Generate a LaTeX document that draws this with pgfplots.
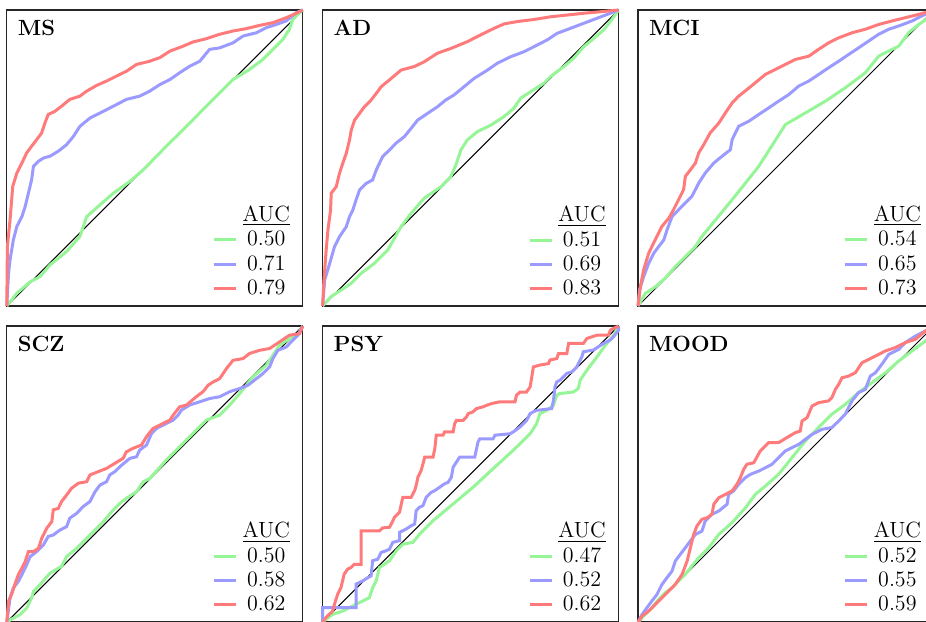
\documentclass[border=0pt]{standalone}
\usepackage{pgfplots}
\pgfplotsset{compat=1.18}
\definecolor{cgreen}{RGB}{150,245,150}
\definecolor{cblue}{RGB}{155,155,255}
\definecolor{cred}{RGB}{255,122,122}
\newcommand{\lfont}{\fontsize{11}{13}\selectfont}
\newcommand{\auc}{\underline{AUC}\rule[-2.5pt]{0pt}{2.5pt}}
\pgfplotsset{
  roc/.style={
    scale only axis, width=148pt, height=148pt,
    xmin=0, xmax=1, ymin=0, ymax=1,
    ticks=none, clip=false,
    axis line style={line width=0.6pt, black!85},
    legend cell align=center,
    legend style={at={(1,0)}, anchor=south east, xshift=-6.5pt, yshift=4.2pt,
      draw=none, fill=none, inner sep=0pt, outer sep=0pt,
      row sep=3.3pt, column sep=2.5pt,
      nodes={inner sep=0pt, font=\lfont}},
    legend image code/.code={\draw[##1] (0pt,0pt) -- (11pt,0pt);},
  },
  gr/.style={color=cgreen, line width=1.5pt},
  bl/.style={color=cblue, line width=1.5pt},
  rd/.style={color=cred, line width=1.5pt},
  dg/.style={black, line width=0.5pt, forget plot},
}
\newcommand{\paneltitle}[1]{\node[anchor=north west, inner sep=0pt, font=\lfont\bfseries, xshift=5.3pt, yshift=-5pt] at (rel axis cs:0,1) {#1};}
\begin{document}
\begin{tikzpicture}
\useasboundingbox (0,0) rectangle (463pt,-310.5pt);
\clip (0,0) rectangle (463pt,-310.5pt);
% ---------------- MS
\begin{axis}[roc, at={(3.4pt,-5pt)}, anchor=north west]
\addlegendimage{empty legend}\addlegendentry{\auc}
\addplot[dg] coordinates {(0,0) (1,1)};
\addplot[gr] coordinates {(0,0) (0.034,0.043) (0.079,0.082) (0.112,0.099) (0.146,0.139) (0.202,0.184) (0.247,0.235) (0.270,0.302) (0.315,0.342) (0.360,0.381) (0.416,0.421) (0.461,0.460) (0.539,0.540) (0.607,0.607) (0.674,0.675) (0.719,0.720) (0.764,0.765) (0.820,0.799) (0.865,0.833) (0.899,0.867) (0.933,0.901) (0.955,0.935) (0.966,0.968) (0.989,0.991) (1,1)};
\addlegendentry{0.50}
\addplot[bl] coordinates {(0,0) (0.006,0.111) (0.011,0.156) (0.022,0.223) (0.034,0.269) (0.051,0.302) (0.062,0.336) (0.073,0.381) (0.084,0.427) (0.090,0.472) (0.107,0.489) (0.124,0.500) (0.146,0.506) (0.174,0.523) (0.202,0.545) (0.225,0.573) (0.247,0.607) (0.281,0.635) (0.315,0.652) (0.360,0.675) (0.404,0.698) (0.449,0.709) (0.483,0.726) (0.517,0.748) (0.551,0.765) (0.584,0.788) (0.618,0.810) (0.652,0.827) (0.685,0.867) (0.719,0.872) (0.764,0.889) (0.798,0.912) (0.843,0.923) (0.876,0.940) (0.910,0.951) (0.944,0.963) (0.978,0.991) (1,1)};
\addlegendentry{0.71}
\addplot[rd] coordinates {(0,0) (0.002,0.201) (0.011,0.291) (0.020,0.404) (0.034,0.449) (0.051,0.483) (0.067,0.517) (0.084,0.540) (0.101,0.562) (0.118,0.585) (0.129,0.619) (0.140,0.647) (0.163,0.658) (0.185,0.675) (0.213,0.698) (0.247,0.709) (0.270,0.726) (0.303,0.745) (0.337,0.760) (0.371,0.777) (0.404,0.793) (0.438,0.816) (0.483,0.827) (0.517,0.839) (0.551,0.861) (0.596,0.878) (0.629,0.892) (0.674,0.903) (0.719,0.918) (0.764,0.929) (0.809,0.937) (0.854,0.948) (0.899,0.957) (0.944,0.974) (0.978,0.989) (1,1)};
\addlegendentry{0.79}
\paneltitle{MS}
\end{axis}
% ---------------- AD
\begin{axis}[roc, at={(161.3pt,-5pt)}, anchor=north west]
\addlegendimage{empty legend}\addlegendentry{\auc}
\addplot[dg] coordinates {(0,0) (1,1)};
\addplot[gr] coordinates {(0,0) (0.029,0.032) (0.063,0.054) (0.097,0.077) (0.130,0.110) (0.175,0.144) (0.220,0.189) (0.265,0.268) (0.299,0.313) (0.343,0.364) (0.400,0.403) (0.433,0.437) (0.450,0.476) (0.467,0.527) (0.489,0.561) (0.523,0.589) (0.568,0.611) (0.613,0.640) (0.646,0.668) (0.669,0.702) (0.703,0.724) (0.747,0.752) (0.770,0.775) (0.815,0.809) (0.848,0.837) (0.882,0.876) (0.916,0.904) (0.949,0.932) (0.972,0.961) (1,1)};
\addlegendentry{0.51}
\addplot[bl] coordinates {(0,0) (0.007,0.088) (0.024,0.144) (0.040,0.200) (0.057,0.234) (0.080,0.268) (0.091,0.302) (0.102,0.324) (0.113,0.358) (0.125,0.392) (0.147,0.414) (0.169,0.426) (0.181,0.459) (0.203,0.505) (0.226,0.527) (0.248,0.550) (0.276,0.572) (0.299,0.600) (0.321,0.628) (0.355,0.651) (0.388,0.673) (0.416,0.696) (0.444,0.713) (0.478,0.741) (0.512,0.769) (0.557,0.797) (0.590,0.820) (0.635,0.842) (0.680,0.859) (0.714,0.876) (0.759,0.899) (0.792,0.921) (0.837,0.938) (0.882,0.955) (0.927,0.972) (0.972,0.989) (1,1)};
\addlegendentry{0.69}
\addplot[rd] coordinates {(0,0) (0.004,0.077) (0.012,0.189) (0.018,0.257) (0.027,0.324) (0.029,0.381) (0.046,0.403) (0.057,0.448) (0.068,0.482) (0.080,0.516) (0.091,0.561) (0.097,0.595) (0.108,0.628) (0.125,0.651) (0.141,0.673) (0.164,0.696) (0.181,0.718) (0.198,0.741) (0.226,0.764) (0.265,0.797) (0.310,0.809) (0.343,0.825) (0.388,0.854) (0.433,0.870) (0.489,0.893) (0.534,0.916) (0.579,0.938) (0.613,0.953) (0.658,0.961) (0.714,0.968) (0.770,0.977) (0.826,0.983) (0.882,0.989) (0.938,0.994) (1,1)};
\addlegendentry{0.83}
\paneltitle{AD}
\end{axis}
% ---------------- MCI
\begin{axis}[roc, at={(319pt,-5pt)}, anchor=north west]
\addlegendimage{empty legend}\addlegendentry{\auc}
\addplot[dg] coordinates {(0,0) (1,1)};
\addplot[gr] coordinates {(0,0) (0.025,0.043) (0.059,0.065) (0.092,0.094) (0.126,0.133) (0.160,0.167) (0.194,0.201) (0.216,0.235) (0.318,0.359) (0.408,0.472) (0.498,0.613) (0.565,0.652) (0.633,0.692) (0.700,0.737) (0.768,0.788) (0.813,0.844) (0.836,0.856) (0.881,0.878) (0.914,0.923) (0.948,0.951) (0.973,0.968) (1,1)};
\addlegendentry{0.54}
\addplot[bl] coordinates {(0,0) (0.005,0.054) (0.019,0.099) (0.036,0.144) (0.053,0.178) (0.070,0.201) (0.087,0.223) (0.098,0.257) (0.115,0.302) (0.137,0.325) (0.160,0.348) (0.182,0.370) (0.205,0.415) (0.227,0.449) (0.256,0.483) (0.284,0.506) (0.312,0.528) (0.318,0.562) (0.340,0.607) (0.374,0.624) (0.408,0.647) (0.441,0.669) (0.475,0.692) (0.509,0.714) (0.543,0.743) (0.577,0.760) (0.610,0.782) (0.644,0.805) (0.678,0.827) (0.712,0.850) (0.745,0.872) (0.779,0.895) (0.813,0.918) (0.847,0.935) (0.881,0.946) (0.926,0.963) (0.959,0.980) (1,1)};
\addlegendentry{0.65}
\addplot[rd] coordinates {(0,0) (0.008,0.065) (0.019,0.122) (0.036,0.178) (0.047,0.201) (0.064,0.235) (0.081,0.269) (0.104,0.297) (0.120,0.325) (0.137,0.359) (0.154,0.393) (0.160,0.438) (0.177,0.460) (0.194,0.483) (0.205,0.517) (0.222,0.545) (0.244,0.585) (0.273,0.618) (0.295,0.652) (0.318,0.686) (0.340,0.709) (0.368,0.731) (0.396,0.754) (0.430,0.782) (0.464,0.799) (0.498,0.816) (0.532,0.833) (0.577,0.844) (0.610,0.867) (0.644,0.889) (0.678,0.906) (0.723,0.923) (0.768,0.935) (0.813,0.951) (0.858,0.963) (0.903,0.974) (0.948,0.985) (1,1)};
\addlegendentry{0.73}
\paneltitle{MCI}
\end{axis}
% ---------------- SCZ
\begin{axis}[roc, at={(3.4pt,-163pt)}, anchor=north west]
\addlegendimage{empty legend}\addlegendentry{\auc}
\addplot[dg] coordinates {(0,0) (1,1)};
\addplot[gr] coordinates {(0,0) (0.022,0.013) (0.045,0.025) (0.067,0.047) (0.084,0.081) (0.090,0.103) (0.112,0.126) (0.146,0.165) (0.185,0.188) (0.202,0.221) (0.236,0.249) (0.281,0.294) (0.326,0.339) (0.360,0.379) (0.382,0.401) (0.404,0.418) (0.438,0.440) (0.461,0.474) (0.483,0.485) (0.539,0.547) (0.607,0.615) (0.674,0.682) (0.719,0.699) (0.753,0.733) (0.787,0.772) (0.831,0.828) (0.876,0.867) (0.899,0.901) (0.921,0.935) (0.955,0.957) (0.983,0.969) (1,1)};
\addlegendentry{0.50}
\addplot[bl] coordinates {(0,0) (0.011,0.081) (0.022,0.115) (0.039,0.137) (0.051,0.160) (0.067,0.193) (0.079,0.221) (0.101,0.238) (0.124,0.261) (0.140,0.289) (0.157,0.294) (0.180,0.311) (0.202,0.322) (0.213,0.351) (0.236,0.367) (0.258,0.390) (0.281,0.407) (0.298,0.440) (0.315,0.463) (0.337,0.474) (0.348,0.497) (0.365,0.508) (0.388,0.530) (0.416,0.553) (0.438,0.558) (0.449,0.581) (0.472,0.598) (0.489,0.637) (0.506,0.654) (0.539,0.671) (0.562,0.682) (0.579,0.699) (0.590,0.716) (0.618,0.733) (0.652,0.744) (0.685,0.755) (0.719,0.761) (0.753,0.778) (0.787,0.789) (0.815,0.800) (0.843,0.822) (0.865,0.839) (0.888,0.862) (0.899,0.890) (0.916,0.918) (0.944,0.929) (0.966,0.952) (0.983,0.969) (1,1)};
\addlegendentry{0.58}
\addplot[rd] coordinates {(0,0) (0.006,0.070) (0.017,0.096) (0.028,0.129) (0.039,0.160) (0.051,0.182) (0.062,0.204) (0.073,0.238) (0.090,0.238) (0.107,0.249) (0.118,0.283) (0.135,0.317) (0.152,0.339) (0.157,0.379) (0.174,0.384) (0.185,0.407) (0.202,0.429) (0.219,0.452) (0.242,0.469) (0.270,0.474) (0.281,0.497) (0.309,0.508) (0.337,0.519) (0.365,0.536) (0.393,0.553) (0.404,0.575) (0.427,0.587) (0.455,0.598) (0.472,0.626) (0.494,0.654) (0.528,0.671) (0.551,0.682) (0.562,0.699) (0.584,0.727) (0.607,0.733) (0.640,0.761) (0.663,0.778) (0.680,0.800) (0.697,0.811) (0.719,0.822) (0.742,0.856) (0.764,0.884) (0.798,0.890) (0.820,0.907) (0.854,0.918) (0.888,0.924) (0.921,0.946) (0.955,0.969) (0.989,0.974) (1,1)};
\addlegendentry{0.62}
\paneltitle{SCZ}
\end{axis}
% ---------------- PSY
\begin{axis}[roc, at={(161.3pt,-163pt)}, anchor=north west]
\addlegendimage{empty legend}\addlegendentry{\auc}
\addplot[dg] coordinates {(0,0) (1,1)};
\addplot[gr] coordinates {(0,0) (0.034,0.026) (0.068,0.037) (0.113,0.060) (0.158,0.082) (0.169,0.116) (0.181,0.139) (0.192,0.184) (0.226,0.207) (0.249,0.241) (0.271,0.263) (0.305,0.269) (0.328,0.297) (0.373,0.342) (0.441,0.399) (0.508,0.455) (0.576,0.518) (0.644,0.580) (0.701,0.636) (0.723,0.670) (0.734,0.704) (0.757,0.715) (0.780,0.732) (0.791,0.766) (0.802,0.772) (0.847,0.777) (0.864,0.789) (0.870,0.817) (0.893,0.851) (0.927,0.896) (0.960,0.941) (0.983,0.969) (1,1)};
\addlegendentry{0.47}
\addplot[bl] coordinates {(0,0) (0,0.049) (0.040,0.049) (0.113,0.049) (0.113,0.128) (0.136,0.139) (0.153,0.150) (0.164,0.156) (0.169,0.207) (0.186,0.212) (0.198,0.235) (0.215,0.241) (0.226,0.246) (0.237,0.269) (0.260,0.275) (0.260,0.303) (0.282,0.314) (0.299,0.325) (0.311,0.331) (0.316,0.376) (0.328,0.388) (0.339,0.393) (0.350,0.421) (0.367,0.438) (0.379,0.444) (0.395,0.455) (0.412,0.467) (0.424,0.472) (0.435,0.489) (0.441,0.523) (0.452,0.540) (0.463,0.557) (0.514,0.557) (0.525,0.608) (0.531,0.619) (0.576,0.619) (0.582,0.631) (0.633,0.636) (0.644,0.642) (0.667,0.659) (0.689,0.681) (0.701,0.704) (0.712,0.710) (0.723,0.715) (0.774,0.721) (0.780,0.749) (0.785,0.794) (0.791,0.811) (0.802,0.817) (0.825,0.840) (0.842,0.845) (0.859,0.862) (0.864,0.873) (0.876,0.896) (0.881,0.913) (0.915,0.919) (0.932,0.930) (0.949,0.941) (0.972,0.953) (0.983,0.964) (1,0.986) (1,1)};
\addlegendentry{0.52}
\addplot[rd] coordinates {(0,0) (0.011,0.015) (0.034,0.037) (0.040,0.060) (0.051,0.094) (0.062,0.116) (0.073,0.162) (0.085,0.179) (0.096,0.184) (0.107,0.195) (0.130,0.195) (0.130,0.308) (0.192,0.308) (0.203,0.318) (0.226,0.320) (0.232,0.331) (0.243,0.354) (0.260,0.371) (0.266,0.399) (0.271,0.421) (0.299,0.421) (0.311,0.444) (0.316,0.461) (0.322,0.489) (0.333,0.512) (0.339,0.534) (0.345,0.557) (0.373,0.557) (0.379,0.585) (0.384,0.631) (0.407,0.631) (0.412,0.642) (0.441,0.642) (0.446,0.670) (0.452,0.681) (0.475,0.681) (0.486,0.693) (0.492,0.704) (0.508,0.710) (0.520,0.721) (0.542,0.727) (0.554,0.732) (0.571,0.738) (0.599,0.744) (0.650,0.744) (0.655,0.766) (0.667,0.777) (0.689,0.777) (0.701,0.794) (0.706,0.823) (0.712,0.862) (0.734,0.868) (0.763,0.873) (0.768,0.885) (0.791,0.890) (0.797,0.907) (0.825,0.907) (0.831,0.941) (0.881,0.941) (0.893,0.958) (0.927,0.969) (0.966,0.969) (0.972,0.986) (0.983,0.992) (1,1)};
\addlegendentry{0.62}
\paneltitle{PSY}
\end{axis}
% ---------------- MOOD
\begin{axis}[roc, at={(319pt,-163pt)}, anchor=north west]
\addlegendimage{empty legend}\addlegendentry{\auc}
\addplot[dg] coordinates {(0,0) (1,1)};
\addplot[gr] coordinates {(0,0) (0.025,0.026) (0.047,0.048) (0.070,0.077) (0.092,0.099) (0.115,0.116) (0.137,0.139) (0.160,0.161) (0.182,0.189) (0.205,0.217) (0.239,0.251) (0.273,0.296) (0.318,0.336) (0.363,0.386) (0.396,0.431) (0.430,0.459) (0.475,0.499) (0.520,0.555) (0.565,0.611) (0.610,0.657) (0.655,0.702) (0.700,0.735) (0.745,0.775) (0.791,0.809) (0.836,0.842) (0.881,0.882) (0.926,0.916) (0.971,0.949) (1,0.977) (1,1)};
\addlegendentry{0.52}
\addplot[bl] coordinates {(0,0) (0.014,0.026) (0.030,0.048) (0.047,0.071) (0.064,0.093) (0.081,0.127) (0.098,0.150) (0.115,0.172) (0.126,0.206) (0.143,0.229) (0.160,0.251) (0.177,0.274) (0.194,0.296) (0.216,0.307) (0.227,0.341) (0.250,0.364) (0.273,0.375) (0.301,0.398) (0.306,0.431) (0.323,0.443) (0.340,0.465) (0.363,0.488) (0.380,0.499) (0.408,0.510) (0.430,0.521) (0.453,0.533) (0.475,0.555) (0.498,0.578) (0.520,0.589) (0.543,0.600) (0.565,0.617) (0.588,0.634) (0.622,0.651) (0.655,0.657) (0.678,0.679) (0.700,0.702) (0.723,0.747) (0.745,0.775) (0.768,0.786) (0.785,0.831) (0.802,0.842) (0.824,0.871) (0.847,0.904) (0.881,0.921) (0.903,0.944) (0.937,0.966) (0.971,0.983) (1,1)};
\addlegendentry{0.55}
\addplot[rd] coordinates {(0,0) (0.014,0.020) (0.036,0.037) (0.059,0.060) (0.081,0.082) (0.104,0.105) (0.126,0.127) (0.149,0.161) (0.166,0.206) (0.177,0.251) (0.188,0.296) (0.199,0.324) (0.216,0.347) (0.233,0.352) (0.250,0.364) (0.256,0.398) (0.273,0.420) (0.295,0.431) (0.318,0.443) (0.334,0.465) (0.346,0.488) (0.357,0.516) (0.368,0.533) (0.391,0.538) (0.413,0.578) (0.441,0.606) (0.475,0.606) (0.503,0.623) (0.532,0.640) (0.548,0.645) (0.554,0.679) (0.571,0.690) (0.588,0.730) (0.610,0.741) (0.644,0.747) (0.655,0.758) (0.667,0.786) (0.678,0.803) (0.689,0.825) (0.712,0.831) (0.734,0.842) (0.757,0.876) (0.779,0.887) (0.813,0.904) (0.836,0.916) (0.869,0.927) (0.903,0.944) (0.937,0.955) (0.971,0.983) (1,1)};
\addlegendentry{0.59}
\paneltitle{MOOD}
\end{axis}
\end{tikzpicture}
\end{document}
